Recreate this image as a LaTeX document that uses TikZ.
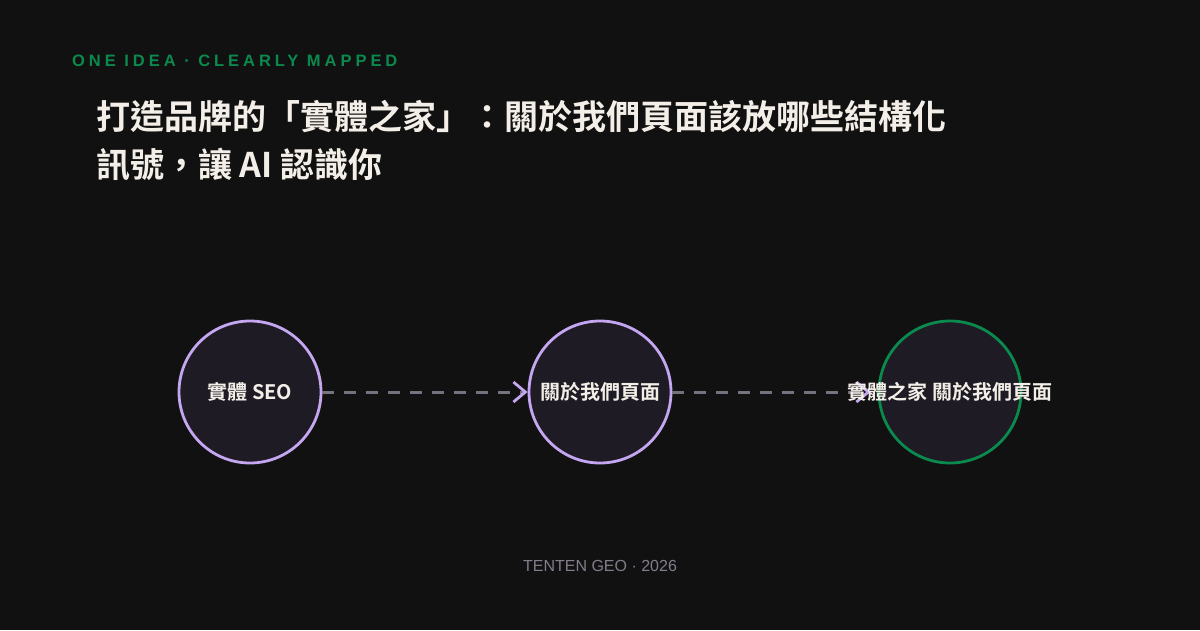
\documentclass[tikz,border=0pt]{standalone}
\usepackage{fontspec}
\setmainfont{Liberation Sans}
\newfontfamily\cjk{Noto Sans CJK TC}[BoldFont={Noto Sans CJK TC Bold}]
\newfontfamily\tagfont{Liberation Sans}[LetterSpace=24]
\usepackage{tikz}
\usetikzlibrary{arrows.meta}
\usetikzlibrary{positioning}

\definecolor{bgcol}{HTML}{111111}
\definecolor{discfill}{HTML}{1E1B24}
\definecolor{lilac}{HTML}{C4A7F0}
\definecolor{leaf}{HTML}{0B8A4E}
\definecolor{dashgray}{HTML}{77717F}
\definecolor{footgray}{HTML}{837D8B}
\definecolor{paper}{HTML}{F3EFE8}

\begin{document}
\begin{tikzpicture}
    [x=1pt,y=-1pt,
roundnodes/.style={circle, draw=lilac, fill=discfill, line width=2.8pt, minimum size=142pt, inner sep=0pt},roundnodeg/.style={roundnodes, draw=leaf},nodetext/.style={text=paper, font=\cjk\bfseries\fontsize{20}{22}\selectfont},flowline/.style={dashgray, line width=3pt, dash pattern=on 12pt off 10pt, -{Straight Barb[length=12pt, width=20pt, line width=2.8pt, color=lilac]}}
]

\useasboundingbox (0,0) rectangle (1200,630);
\fill[bgcol] (0,0) rectangle (1200,630);

\node[anchor=base west, inner sep=0pt, text=leaf, font=\tagfont\bfseries\fontsize{16.5}{18}\selectfont](tagline) at (72,66) {ONE IDEA · CLEARLY MAPPED};
\node[anchor=base west, inner sep=0pt, text=paper, font=\cjk\bfseries\fontsize{34}{40}\selectfont](title1) at (96,129) {打造品牌的「實體之家」：關於我們頁面該放哪些結構化};
\node[anchor=base west, inner sep=0pt, text=paper, font=\cjk\bfseries\fontsize{34}{40}\selectfont](title2) at (96,177) {訊號，讓 AI 認識你};

\node[roundnodes](node1) at (250,392) {};
\node[roundnodes](node2)[right=205.2pt of node1] {};
\node[roundnodeg](node3)[right=205.2pt of node2] {};

\draw[flowline] (node1) -- (node2);
\draw[flowline, shorten >=7pt] (node2) -- (node3);

\node[nodetext](label1) at (node1) {實體 SEO};
\node[nodetext](label2) at (node2) {關於我們頁面};
\node[nodetext](label3) at (node3) {實體之家 關於我們頁面};

\node[anchor=base, inner sep=0pt, text=footgray, font=\fontsize{16}{18}\selectfont](footer) at (600,571) {TENTEN GEO · 2026};

\end{tikzpicture}
\end{document}
